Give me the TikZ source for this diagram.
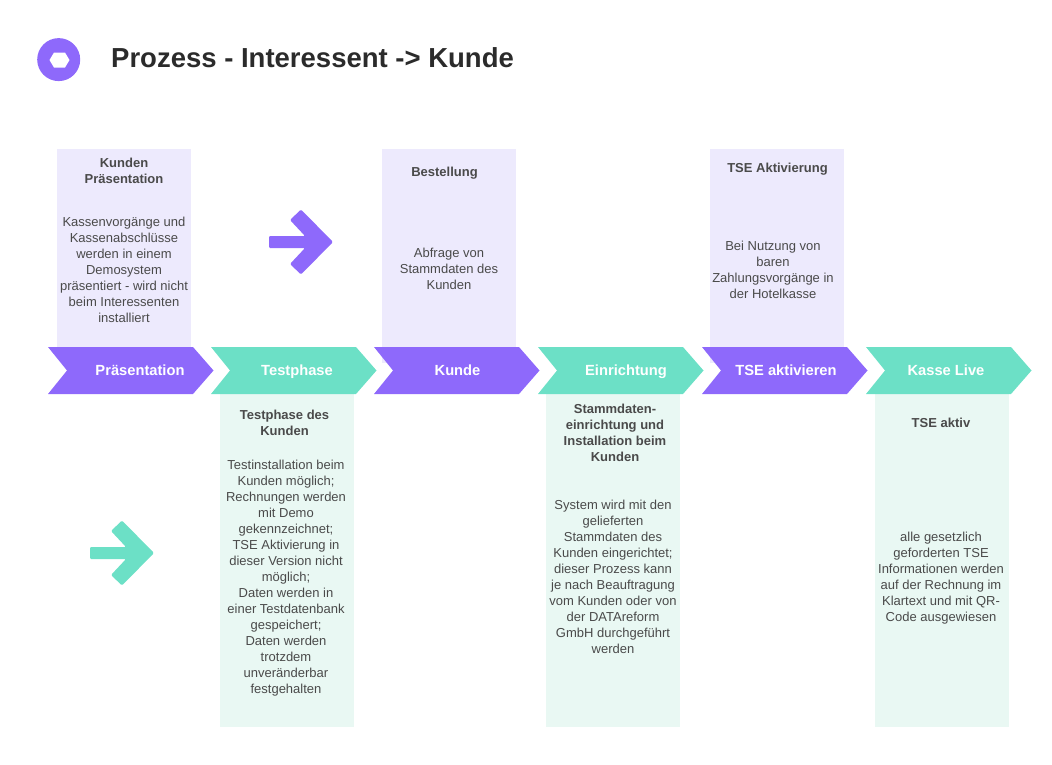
\documentclass[tikz,border=0pt]{standalone}
\usepackage{fontspec}
\setmainfont{Liberation Sans}
\usepackage{xcolor}
\definecolor{procpurple}{HTML}{8E69FB}
\definecolor{procteal}{HTML}{6CE0C6}
\definecolor{lightpurple}{HTML}{EDEAFD}
\definecolor{lightteal}{HTML}{E9F8F3}
\definecolor{bodytext}{HTML}{4A4A4A}
\definecolor{titletext}{HTML}{2B2B2B}
\tikzset{
  boxtitle/.style={align=center, text=bodytext, font=\fontsize{13}{16}\selectfont\bfseries},
  boxbody/.style={align=center, text=bodytext, font=\fontsize{13}{16}\selectfont},
  steplabel/.style={anchor=base, text=white, font=\fontsize{14.7}{16}\selectfont\bfseries},
}
% arrow with its tail at (#1,#2)
\newcommand{\procarrow}[3]{%
  \fill[#3, rounded corners=1.2pt] (#1,#2-6) -- (#1+36,#2-6) -- (#1+21,#2-22) -- (#1+32,#2-32.5)
    -- (#1+64,#2) -- (#1+32,#2+32.5) -- (#1+21,#2+22) -- (#1+36,#2+6) -- (#1,#2+6) -- cycle;}

\begin{document}
\begin{tikzpicture}[x=1pt, y=-1pt]
  \useasboundingbox (0,0) rectangle (1052,764);
  % header
  \fill[procpurple] (58.7,59.6) circle (21.5);
  \fill[white] (49.5,60) -- (54,52.5) -- (65,52.5) -- (69.5,60) -- (65,67.5) -- (54,67.5) -- cycle;
  \node[anchor=west, inner sep=0pt, text=titletext, font=\fontsize{27.5}{30}\selectfont\bfseries] (header) at (111,58) {Prozess - Interessent -> Kunde};
  % boxes
  \foreach \x/\yend in {57/347,382/363,710/363}
    \fill[lightpurple] (\x,149) rectangle (\x+134,\yend);
  \foreach \x in {220,546,875}
    \fill[lightteal] (\x,394) rectangle (\x+134,727);
  \procarrow{269}{242}{procpurple}
  \procarrow{90}{553}{procteal}
  % steps
  \foreach \x/\col in {48/procpurple,211/procteal,374/procpurple,538/procteal,702/procpurple,866/procteal}
    \fill[\col] (\x,347) -- (\x+145,347) -- (\x+165.5,370.5) -- (\x+145,394) -- (\x,394) -- (\x+19,370.5) -- cycle;
  \node[steplabel] (praesentation) at (140,375) {Präsentation};
  \node[steplabel] (testphase) at (297,375) {Testphase};
  \node[steplabel] (kunde) at (457.5,375) {Kunde};
  \node[steplabel] (einrichtung) at (626,375) {Einrichtung};
  \node[steplabel] (tse) at (786,375) {TSE aktivieren};
  \node[steplabel] (live) at (946,375) {Kasse Live};
  % upper texts
  \node[boxtitle] (t1) at (124,171) {Kunden\\Präsentation};
  \node[boxbody] (b1) at (124,270) {Kassenvorgänge und\\Kassenabschlüsse\\werden in einem\\Demosystem\\präsentiert - wird nicht\\beim Interessenten\\installiert};
  \node[boxtitle] (t3) at (444.5,173) {Bestellung};
  \node[boxbody] (b3) at (449,269) {Abfrage von\\Stammdaten des\\Kunden};
  \node[boxtitle] (t5) at (777.5,169) {TSE Aktivierung};
  \node[boxbody] (b5) at (773,270) {Bei Nutzung von\\baren\\Zahlungsvorgänge in\\der Hotelkasse};
  % lower texts
  \node[boxtitle] (t2) at (284.5,423) {Testphase des\\Kunden};
  \node[boxbody] (b2) at (286,578) {Testinstallation beim\\Kunden möglich;\\Rechnungen werden\\mit Demo\\gekennzeichnet;\\TSE Aktivierung in\\dieser Version nicht\\möglich;\\Daten werden in\\einer Testdatenbank\\gespeichert;\\Daten werden\\trotzdem\\unveränderbar\\festgehalten};
  \node[boxtitle] (t4) at (615,433) {Stammdaten-\\einrichtung und\\Installation beim\\Kunden};
  \node[boxbody] (b4) at (613,577) {System wird mit den\\gelieferten\\Stammdaten des\\Kunden eingerichtet;\\dieser Prozess kann\\je nach Beauftragung\\vom Kunden oder von\\der DATAreform\\GmbH durchgeführt\\werden};
  \node[boxtitle] (t6) at (941,423) {TSE aktiv};
  \node[boxbody] (b6) at (941,578) {alle gesetzlich\\geforderten TSE\\Informationen werden\\auf der Rechnung im\\Klartext und mit QR-\\Code ausgewiesen};
\end{tikzpicture}
\end{document}
